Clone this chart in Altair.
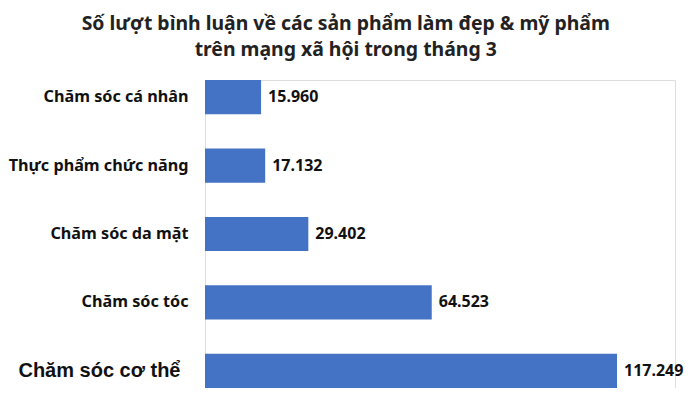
import altair as alt
import pandas as pd

categories = ["Chăm sóc cá nhân", "Thực phẩm chức năng", "Chăm sóc da mặt", "Chăm sóc tóc", "Chăm sóc cơ thể"]
values = [15960, 17132, 29402, 64523, 117249]
labels = [f"{v:,}".replace(",", ".") for v in values]

df = pd.DataFrame({"cat": categories, "val": values, "label": labels})

FONT = "Noto Sans"
BIG = "datum.value == 'Chăm sóc cơ thể'"

y = alt.Y(
    "cat:N",
    sort=categories,
    title=None,
    scale=alt.Scale(paddingInner=0.5, paddingOuter=0),
    axis=alt.Axis(
        domain=False,
        ticks=False,
        labelPadding={"condition": {"test": BIG, "value": 25}, "value": 17},
        labelLimit=300,
        minExtent=197,
        maxExtent=197,
        labelColor="#111111",
        labelFontWeight="bold",
        labelFont={"condition": {"test": BIG, "value": "Liberation Sans"}, "value": FONT},
        labelFontSize={"condition": {"test": BIG, "value": 20}, "value": 16.2},
    ),
)
x = alt.X("val:Q", axis=None, scale=alt.Scale(domain=[0, 133750], nice=False))

bars = alt.Chart(df).mark_bar(color="#4472C4").encode(x=x, y=y)
text = alt.Chart(df).mark_text(
    align="left", baseline="middle", dx=7, font=FONT, fontSize=16, fontWeight="bold", color="#111111"
).encode(x=x, y=y, text="label:N")

chart = (bars + text).properties(
    width=470,
    height=308,
    padding={"left": 0, "top": 5, "right": 0, "bottom": 0},
    title=alt.TitleParams(
        ["Số lượt bình luận về các sản phẩm làm đẹp & mỹ phẩm", "trên mạng xã hội trong tháng 3"],
        font=FONT,
        fontSize=19.4,
        fontWeight="bold",
        lineHeight=26,
        color="#222222",
        anchor="middle",
        frame="bounds",
        offset=20,
    ),
).configure_view(stroke=None).configure(background="white")

chart.save("out.html", embed_options={"renderer": "svg", "actions": False})
